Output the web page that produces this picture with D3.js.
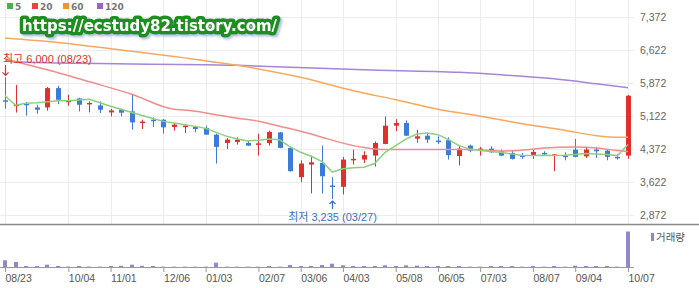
<!DOCTYPE html>
<html lang="ko">
<head>
<meta charset="UTF-8">
<title>주봉 차트</title>
<script src="https://cdn.jsdelivr.net/npm/d3@7"></script>
<style>
  body { margin: 0; background: #fff; font-family: 'Liberation Sans', Arial, 'Noto Sans CJK KR', sans-serif; }
  svg { display: block; }
</style>
</head>
<body>
<div id="chart"></div>
<script>
// weekly candles, 08/23 .. 10/07 (index = week number)
const open  = [5480,5360,5400,5317,5317,5756,5439,5521,5395,5362,5203,5271,5226,4980,5038,5038,4872,4872,4872,4850,
               4698,4510,4532,4510,4487,4505,4750,4397,3731,4018,4057,3542,3513,4115,4132,4222,4487,4902,4963,4607,
               4675,4562,4573,4211,4449,4336,4381,4320,4283,4222,4229,4283,4237,4222,4358,4206,4358,4336,4193,4222];
const close = [5460,5380,5385,5265,5756,5491,5469,5378,5420,5265,5249,5197,4977,4995,5016,4864,4925,4902,4827,4698,
               4419,4585,4585,4449,4500,4758,4397,3867,4041,4070,3753,3520,4132,4148,4234,4510,4902,4963,4675,4660,
               4585,4540,4233,4381,4336,4381,4297,4222,4147,4193,4306,4261,4250,4193,4193,4358,4320,4193,4170,5582];
const high  = [6000,5830,5440,5378,5779,5808,5604,5537,5453,5453,5287,5287,5604,5038,5090,5054,4963,4940,4902,4902,
               4721,4623,4637,4555,4721,4789,4760,4400,4115,4222,4449,3731,4193,4358,4320,4546,5113,5050,5022,4811,
               4736,4660,4640,4449,4472,4419,4433,4358,4336,4283,4358,4320,4258,4297,4601,4397,4411,4358,4261,5600];
const low   = [5290,5200,5130,5174,5242,5394,5355,5226,5203,5190,5113,5113,4811,4827,4872,4721,4789,4737,4751,4698,
               4041,4374,4472,4449,4222,4449,4390,3860,3616,3361,3361,3235,3339,4018,4054,3973,4480,4777,4670,4517,
               4510,4487,4132,3996,4297,4222,4283,4210,4132,4147,4147,4222,3867,4115,4185,4170,4170,4115,4132,4148];
const volume = [190,142,28,28,65,30,12,28,12,12,28,34,65,34,28,10,10,10,10,10,
                122,10,10,10,10,25,10,57,28,28,57,93,48,28,28,28,48,28,48,37,
                28,28,28,28,10,10,28,28,28,10,28,10,28,10,37,28,28,28,10,1000];

// moving averages
const ma5 = [5582,5367,5412,5423,5446,5469,5469,5484,5503,5423,5344,5276,5203,5135,5067,5000,4963,4925,4886,4841,
             4750,4660,4601,4555,4573,4601,4585,4419,4297,4206,4093,3848,3921,3944,3957,4041,4297,4449,4601,4714,
             4737,4698,4585,4449,4370,4336,4313,4290,4261,4222,4222,4229,4222,4229,4245,4268,4261,4245,4222,4472];
const ma20 = [[0,6420],[4,6171],[8,5899],[12,5616],[16,5276],[17,5258],[18,5231],[20,5151],[22,5072],[24,5004],
              [26,4891],[28,4777],[30,4641],[32,4506],[34,4404],[36,4358],[40,4358],[44,4358],[47,4324],[49,4347],
              [51,4392],[54,4415],[56,4397],[58,4336],[59,4313]];
const ma60 = [[0,6896],[5,6794],[11,6620],[17,6443],[22,6273],[28,6001],[33,5695],[37,5491],[41,5276],[45,5117],
              [49,4947],[53,4800],[56,4675],[58,4637],[59,4637]];
const ma120 = [[0,6370],[2,6341],[22,6273],[34,6171],[43,6114],[47,6058],[52,5967],[56,5854],[59,5763]];

const priceTicks = [2872, 3622, 4372, 5122, 5872, 6622, 7372];
const tickWeeks  = [0, 6, 10, 15, 19, 24, 28, 32, 37, 41, 45, 50, 54, 59];
const tickLabels = ['08/23','10/04','11/01','12/06','01/03','02/07','03/06','04/03','05/08','06/05','07/03','08/07','09/04','10/07'];
const maNames  = ['5', '20', '60', '120'];
const hiDate = '08/23', loDate = '03/27';

const W = 699, H = 288;
const UP = '#e0302c', DOWN = '#3d7bd9';
const maColors = ['#8ccf80', '#f08c8c', '#f7a85e', '#a585d8'];
const legendColors = ['#4cae4c', '#e5453f', '#f5942c', '#9a62c8'];

const svg = d3.select('#chart').append('svg').attr('width', W).attr('height', H);

const x = d3.scalePoint().domain(d3.range(open.length)).range([5, 628]);
const y = d3.scaleLinear().domain([2872, 7372]).range([215, 17]);
const yv = d3.scaleLinear().domain([0, d3.max(volume)]).range([267, 231.5]);
const px = i => Math.round(x(i)) + 0.5;

// grid
svg.append('g').selectAll('line').data(priceTicks).join('line')
  .attr('x1', 0).attr('x2', 634)
  .attr('y1', d => Math.round(y(d)) + 0.5).attr('y2', d => Math.round(y(d)) + 0.5)
  .attr('stroke', '#ececec');
svg.append('g').selectAll('line').data(tickWeeks).join('line')
  .attr('x1', d => px(d)).attr('x2', d => px(d))
  .attr('y1', 0).attr('y2', 224)
  .attr('stroke', '#ececec');

// pane separator
svg.append('line').attr('x1', 0).attr('x2', W).attr('y1', 224.5).attr('y2', 224.5)
  .attr('stroke', '#8a8a8a').attr('stroke-width', 1.5);

// price axis
const yAxis = svg.append('g').attr('transform', 'translate(640,0)')
  .call(d3.axisRight(y).tickValues(priceTicks).tickSize(0).tickPadding(0).tickFormat(d3.format(',')));
yAxis.select('.domain').remove();
yAxis.selectAll('text').attr('fill', '#666').style('font-size', '10.5px')
  .style('font-family', "'Liberation Sans', Arial, sans-serif");

// candles
const candles = svg.append('g').selectAll('g').data(d3.range(open.length)).join('g')
  .attr('fill', i => close[i] >= open[i] ? UP : DOWN)
  .attr('stroke', i => close[i] >= open[i] ? UP : DOWN);
candles.append('line')
  .attr('x1', px).attr('x2', px)
  .attr('y1', i => y(high[i])).attr('y2', i => y(low[i]));
candles.append('rect')
  .attr('stroke', 'none')
  .attr('x', i => Math.round(x(i)) - 2)
  .attr('width', 5)
  .attr('y', i => y(Math.max(open[i], close[i])))
  .attr('height', i => Math.max(1.5, Math.abs(y(open[i]) - y(close[i]))));

// moving averages
const lineIdx = d3.line().x((d, i) => x(i)).y(d => y(d));
const linePairs = d3.line().x(d => x(d[0])).y(d => y(d[1])).curve(d3.curveMonotoneX);
const maG = svg.append('g').attr('fill', 'none').attr('stroke-width', 1.5);
maG.append('path').attr('d', linePairs(ma120)).attr('stroke', maColors[3]);
maG.append('path').attr('d', linePairs(ma60)).attr('stroke', maColors[2]);
maG.append('path').attr('d', linePairs(ma20)).attr('stroke', maColors[1]);
maG.append('path').attr('d', lineIdx(ma5)).attr('stroke', maColors[0]);

// high / low markers
const iHi = d3.maxIndex(high), iLo = d3.minIndex(low);
const fmt = d3.format(',');
svg.append('text').attr('x', 3).attr('y', 63)
  .attr('fill', '#d9302c').style('font-size', '11px')
  .text(`최고 ${fmt(high[iHi])} (${hiDate})`);
svg.append('path')
  .attr('d', `M${px(iHi)},65V${y(high[iHi]) - 2}M${px(iHi) - 3},${y(high[iHi]) - 5}L${px(iHi)},${y(high[iHi]) - 2}L${px(iHi) + 3},${y(high[iHi]) - 5}`)
  .attr('fill', 'none').attr('stroke', '#d9302c').attr('stroke-width', 1.2);
svg.append('text').attr('x', px(iLo)).attr('y', 221).attr('text-anchor', 'middle')
  .attr('fill', '#3a6fc6').style('font-size', '11px')
  .text(`최저 ${fmt(low[iLo])} (${loDate})`);
svg.append('path')
  .attr('d', `M${px(iLo)},209V${y(low[iLo]) + 2}M${px(iLo) - 3},${y(low[iLo]) + 5}L${px(iLo)},${y(low[iLo]) + 2}L${px(iLo) + 3},${y(low[iLo]) + 5}`)
  .attr('fill', 'none').attr('stroke', '#3a6fc6').attr('stroke-width', 1.2);

// volume
svg.append('g').selectAll('rect').data(d3.range(volume.length)).join('rect')
  .attr('x', i => Math.round(x(i)) - 2)
  .attr('width', 4)
  .attr('y', i => yv(volume[i]))
  .attr('height', i => yv(0) - yv(volume[i]))
  .attr('fill', '#9087cc');

const xAxis = svg.append('g').attr('transform', 'translate(0,267)')
  .call(d3.axisBottom(x).tickValues(tickWeeks).tickSize(5).tickPadding(3)
    .tickFormat(d => tickLabels[tickWeeks.indexOf(d)]));
xAxis.select('.domain').remove();
svg.append('line').attr('x1', 0).attr('x2', 634).attr('y1', 267.5).attr('y2', 267.5).attr('stroke', '#999');
xAxis.selectAll('line').attr('stroke', '#999');
xAxis.selectAll('text').attr('text-anchor', 'start').attr('fill', '#555')
  .style('font-size', '10.5px').style('font-family', "'Liberation Sans', Arial, sans-serif");

svg.append('rect').attr('x', 651).attr('y', 233).attr('width', 3).attr('height', 8).attr('fill', '#9087cc');
svg.append('text').attr('x', 656).attr('y', 241).attr('fill', '#555').style('font-size', '10.5px').text('거래량');

// legend
const leg = svg.append('g').selectAll('g').data(maNames).join('g')
  .attr('transform', (d, i) => `translate(${[7, 32, 63, 97][i]},3)`);
leg.append('rect').attr('width', 6).attr('height', 6).attr('fill', (d, i) => legendColors[i]);
leg.append('text').attr('x', 8).attr('y', 6.5).text(d => d)
  .attr('fill', '#777').style('font-size', '9px').style('font-weight', 'bold')
  .style('font-family', "'DejaVu Sans', sans-serif");

// watermark: white text, thick green outline, soft bluish shadow
const defs = svg.append('defs');
defs.append('filter').attr('id', 'wmShadow').attr('x', '-5%').attr('y', '-40%').attr('width', '110%').attr('height', '180%')
  .append('feDropShadow').attr('dx', 2).attr('dy', 2).attr('stdDeviation', 0.8)
  .attr('flood-color', '#a9bcdc').attr('flood-opacity', 0.9);
svg.append('text').attr('x', 22).attr('y', 30.5)
  .text('https://ecstudy82.tistory.com/')
  .style('font-family', "'DejaVu Sans', sans-serif").style('font-size', '15px').style('font-weight', 'bold')
  .attr('fill', '#fff').attr('stroke', '#1f8f1f').attr('stroke-width', 7)
  .attr('stroke-linejoin', 'round').style('paint-order', 'stroke')
  .attr('filter', 'url(#wmShadow)');
</script>
</body>
</html>
